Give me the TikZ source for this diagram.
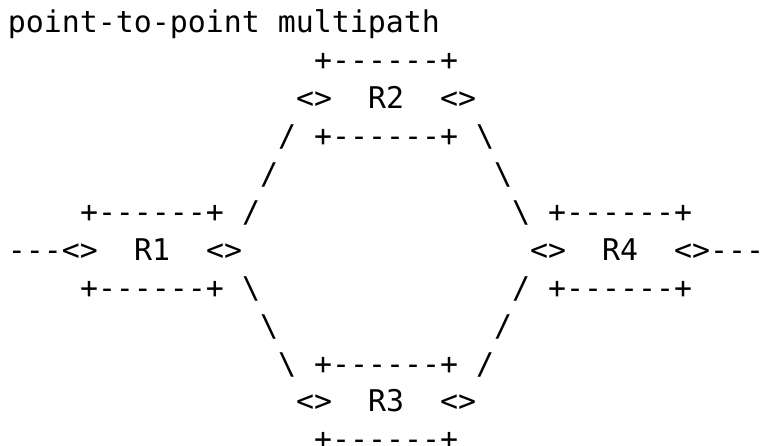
\documentclass[tikz,border=0pt]{standalone}
\usepackage{fontspec}
\setmonofont{DejaVu Sans Mono}
\tikzset{
  asc/.style={anchor=base west, inner sep=0pt, outer sep=0pt,
    font=\ttfamily\fontsize{29.9pt}{37.9pt}\selectfont, text=black}
}
% #1 name, #2 column, #3 line, #4 text
\newcommand\glyphrow[4]{\node[asc] (#1) at ({(8+18*#2)*1pt},{(413-37.9*(#3-1))*1pt}) {#4};}
\begin{document}
\begin{tikzpicture}
\fill[white] (0,0) rectangle (764pt,446pt);
\useasboundingbox (0,0) rectangle (764pt,446pt);
% line 1
\glyphrow{title}{0}{1}{point-to-point multipath}
% R2
\glyphrow{r2top}{17}{2}{+------+}
\glyphrow{r2l}{16}{3}{<>}
\glyphrow{r2}{20}{3}{R2}
\glyphrow{r2r}{24}{3}{<>}
\glyphrow{s4a}{15}{4}{/}
\glyphrow{r2bot}{17}{4}{+------+}
\glyphrow{s4b}{26}{4}{\textbackslash}
\glyphrow{s5a}{14}{5}{/}
\glyphrow{s5b}{27}{5}{\textbackslash}
% R1 / R4
\glyphrow{r1top}{4}{6}{+------+}
\glyphrow{s6a}{13}{6}{/}
\glyphrow{s6b}{28}{6}{\textbackslash}
\glyphrow{r4top}{30}{6}{+------+}
\glyphrow{r1l}{0}{7}{---<>}
\glyphrow{r1}{7}{7}{R1}
\glyphrow{r1r}{11}{7}{<>}
\glyphrow{r4l}{29}{7}{<>}
\glyphrow{r4}{33}{7}{R4}
\glyphrow{r4r}{37}{7}{<>---}
\glyphrow{r1bot}{4}{8}{+------+}
\glyphrow{s8a}{13}{8}{\textbackslash}
\glyphrow{s8b}{28}{8}{/}
\glyphrow{r4bot}{30}{8}{+------+}
% R3
\glyphrow{s9a}{14}{9}{\textbackslash}
\glyphrow{s9b}{27}{9}{/}
\glyphrow{s10a}{15}{10}{\textbackslash}
\glyphrow{r3top}{17}{10}{+------+}
\glyphrow{s10b}{26}{10}{/}
\glyphrow{r3l}{16}{11}{<>}
\glyphrow{r3}{20}{11}{R3}
\glyphrow{r3r}{24}{11}{<>}
\glyphrow{r3bot}{17}{12}{+------+}
\end{tikzpicture}
\end{document}
